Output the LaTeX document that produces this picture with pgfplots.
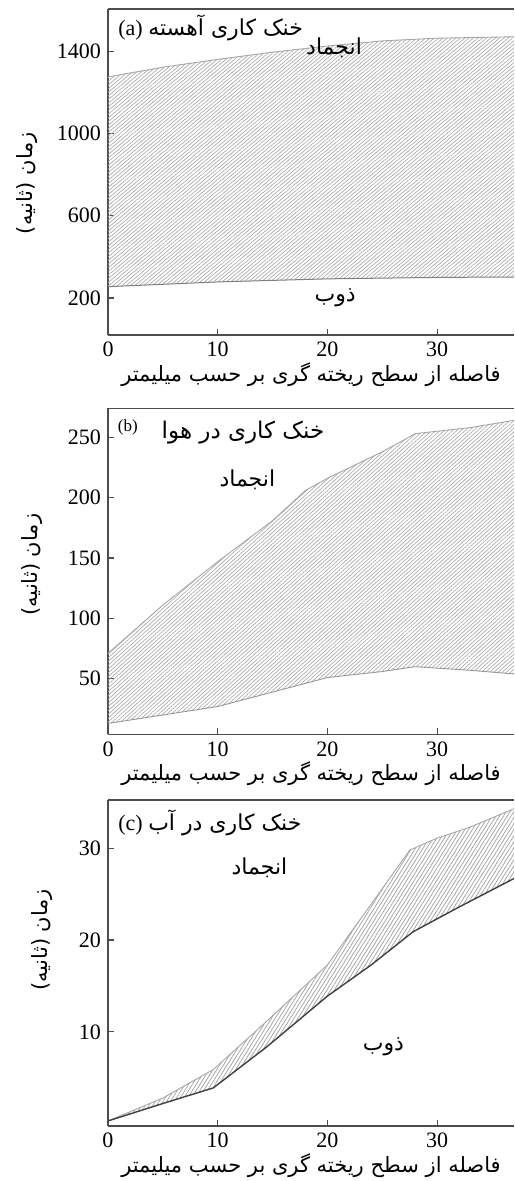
\documentclass[border=0pt]{standalone}
\usepackage{fontspec}
\setmainfont{Liberation Serif}
\newfontfamily\fa[Script=Arabic]{DejaVu Sans}
\TeXXeTstate=1
\usepackage{pgfplots}
\pgfplotsset{compat=1.18}
\usetikzlibrary{patterns.meta}
\newcommand{\fatext}[1]{{\fa\beginR #1\endR}}

\pgfplotsset{panel/.style={
  scale only axis, width=203pt, height=163pt, anchor=north west,
  xmin=0, xmax=37,
  axis x line*=box, axis y line*=left,
  xtick={0,10,20,30}, xtick pos=left, ytick pos=left,
  tick align=inside, major tick length=3pt,
  axis line style={draw=black!70, line width=0.6pt},
  tick style={black!70, line width=0.6pt},
  /pgf/number format/assume math mode=true,
  /pgf/number format/1000 sep={},
  ticklabel style={font=\fontsize{11}{13}\selectfont},
  xlabel={\fatext{فاصله از سطح ریخته گری بر حسب میلیمتر}},
  ylabel={\fatext{زمان (ثانیه)}},
  label style={font=\fontsize{10.5}{12}\selectfont},
  xlabel style={yshift=4pt},
  clip=false,
}}

\pgfplotstableread{
x y
0 1275
5 1322
10 1360
15 1395
20 1425
25 1450
30 1463
37 1470
}\aup
\pgfplotstableread{
x y
0 255
10 278
20 293
30 300
37 302
}\alo
\pgfplotstableread{
x y
0 1275
5 1322
10 1360
15 1395
20 1425
25 1450
30 1463
37 1470
37 302
30 300
20 293
10 278
0 255
}\aband
\pgfplotstableread{
x y
0 71
5 111
10 147
15 181
18 206
20 216
25 238
28 253
33 258
37 264
}\bup
\pgfplotstableread{
x y
0 13
5 20
10 27
15 39
20 51
25 56
28 60
33 57
37 54
}\blo
\pgfplotstableread{
x y
0 71
5 111
10 147
15 181
18 206
20 216
25 238
28 253
33 258
37 264
37 54
33 57
28 60
25 56
20 51
15 39
10 27
5 20
0 13
}\bband
\pgfplotstableread{
x y
0 0.3
5 2.8
9.6 5.9
14.5 11.2
20 17.3
25 25.6
27.5 29.8
30 31.1
33 32.3
37 34.3
}\ctop
\pgfplotstableread{
x y
0 0.3
5 2.2
9.6 3.9
14.5 8.4
20 13.9
24 17.3
27.8 20.9
32 23.6
37 26.7
}\clo
\pgfplotstableread{
x y
0 0.3
5 2.8
9.6 5.9
14.5 11.2
20 17.3
25 25.6
27.5 29.8
30 31.1
33 32.3
37 34.3
37 26.7
32 23.6
27.8 20.9
24 17.3
20 13.9
14.5 8.4
9.6 3.9
5 2.2
0 0.3
}\cband

\begin{document}
\begin{tikzpicture}
\useasboundingbox (0,0) rectangle (257pt,-590.5pt);

% ---------- (a)
\begin{axis}[panel, at={(54pt,-4.5pt)},
  ymin=20, ymax=1605, ytick={200,600,1000,1400},
  ylabel style={at={(axis description cs:-0.2,0.466)}, anchor=center}]
\addplot[pattern={Lines[angle=40,distance=1.4pt,line width=0.35pt]}, pattern color=black!33, draw=none] table {\aband};
\addplot[black!35, line width=0.45pt] table {\aup};
\addplot[black!50, line width=0.5pt] table {\alo};
\node[anchor=west, font=\fontsize{11}{13}\selectfont] at (axis cs:0.3,1513) {(a) \fatext{خنک کاری آهسته}};
\node[font=\fontsize{11}{13}\selectfont] at (axis cs:20.6,1416) {\fatext{انجماد}};
\node[font=\fontsize{11}{13}\selectfont] at (axis cs:20.7,200) {\fatext{ذوب}};
\end{axis}

% ---------- (b)
\begin{axis}[panel, at={(54pt,-204.15pt)},
  ymin=4, ymax=274, ytick={50,100,150,200,250},
  ylabel style={at={(axis description cs:-0.187,0.52)}, anchor=center}]
\addplot[pattern={Lines[angle=42,distance=1.4pt,line width=0.35pt]}, pattern color=black!33, draw=none] table {\bband};
\addplot[black!35, line width=0.45pt] table {\bup};
\addplot[black!40, line width=0.45pt] table {\blo};
\node[font=\fontsize{8.5}{10}\selectfont] at (axis cs:1.8,258) {(b)};
\node[font=\fontsize{11.5}{13}\selectfont] at (axis cs:12.3,254) {\fatext{خنک کاری در هوا}};
\node[font=\fontsize{11}{13}\selectfont] at (axis cs:12.7,215) {\fatext{انجماد}};
\end{axis}

% ---------- (c)
\begin{axis}[panel, at={(54pt,-400pt)},
  ymin=-0.25, ymax=35.25, ytick={10,20,30},
  ylabel style={at={(axis description cs:-0.163,0.571)}, anchor=center}]
\addplot[pattern={Lines[angle=58,distance=1.6pt,line width=0.4pt]}, pattern color=black!35, draw=none] table {\cband};
\addplot[black!35, line width=0.45pt] table {\ctop};
\addplot[black!75, line width=0.7pt] table {\clo};
\node[anchor=west, font=\fontsize{11}{13}\selectfont] at (axis cs:0.3,32.75) {(c) \fatext{خنک کاری در آب}};
\node[font=\fontsize{11}{13}\selectfont] at (axis cs:13.8,27.9) {\fatext{انجماد}};
\node[font=\fontsize{11}{13}\selectfont] at (axis cs:25.1,8.4) {\fatext{ذوب}};
\end{axis}
\end{tikzpicture}
\end{document}
